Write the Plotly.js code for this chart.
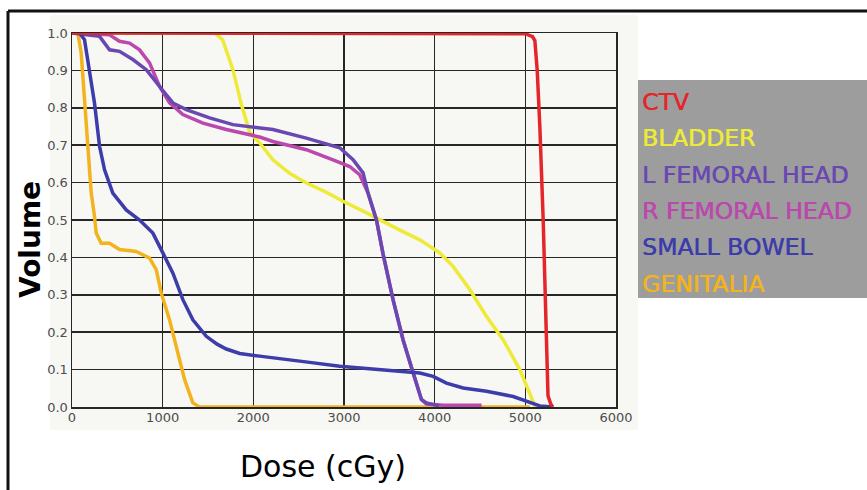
<!DOCTYPE html>
<html>
<head>
<meta charset="utf-8">
<script src="https://cdn.plot.ly/plotly-3.0.1.min.js"></script>
<style>html,body{margin:0;padding:0;background:#fff;}#chart{width:867px;height:490px;}</style>
</head>
<body>
<div id="chart"></div>
<script>
const seriesNames = ["CTV", "BLADDER", "L FEMORAL HEAD", "R FEMORAL HEAD", "SMALL BOWEL", "GENITALIA"];
const seriesColors = ["#e4262b", "#eeea38", "#6a48b2", "#bb48ac", "#3c3caa", "#f2b31f"];

const ctvDose = [0, 4880, 5000, 5080, 5105, 5131, 5160, 5197, 5234, 5250, 5280, 5303];
const ctvVol  = [1, 1, 0.998, 0.99, 0.98, 0.90, 0.75, 0.50, 0.145, 0.03, 0.008, 0];

const bladderDose = [0, 1573, 1661, 1775, 1867, 1959, 2069, 2216, 2400, 2585, 2800, 2989, 3200, 3394, 3600, 3836, 4056, 4203, 4387, 4572, 4755, 4939, 5013, 5086, 5110];
const bladderVol  = [1, 1, 0.982, 0.902, 0.810, 0.735, 0.706, 0.661, 0.625, 0.599, 0.575, 0.550, 0.525, 0.500, 0.475, 0.447, 0.412, 0.376, 0.314, 0.242, 0.180, 0.100, 0.055, 0.010, 0];

const lFemDose = [0, 304, 414, 524, 671, 819, 966, 1113, 1260, 1518, 1775, 2069, 2216, 2585, 2953, 3100, 3210, 3265, 3358, 3430, 3541, 3651, 3762, 3854, 3909, 4000, 4050];
const lFemVol  = [1, 0.991, 0.955, 0.951, 0.929, 0.902, 0.857, 0.813, 0.795, 0.773, 0.755, 0.746, 0.742, 0.719, 0.693, 0.661, 0.626, 0.572, 0.500, 0.410, 0.287, 0.180, 0.091, 0.020, 0.011, 0.005, 0.003];

const rFemDose = [0, 414, 524, 635, 745, 855, 966, 1076, 1223, 1444, 1702, 2069, 2216, 2585, 2879, 3063, 3173, 3265, 3358, 3430, 3541, 3651, 3762, 3854, 3909, 4100, 4517];
const rFemVol  = [1, 0.995, 0.978, 0.973, 0.955, 0.920, 0.857, 0.813, 0.782, 0.759, 0.742, 0.722, 0.710, 0.688, 0.661, 0.643, 0.621, 0.572, 0.500, 0.410, 0.287, 0.180, 0.091, 0.020, 0.008, 0.005, 0.005];

const bowelDose = [0, 83, 138, 193, 248, 304, 359, 450, 598, 745, 892, 1002, 1113, 1223, 1333, 1481, 1600, 1702, 1850, 2069, 2216, 2600, 2953, 3300, 3688, 3836, 3983, 4130, 4314, 4572, 4866, 5013, 5160, 5307];
const bowelVol  = [1, 1, 0.982, 0.902, 0.813, 0.697, 0.634, 0.572, 0.527, 0.500, 0.465, 0.412, 0.358, 0.287, 0.233, 0.189, 0.168, 0.155, 0.143, 0.136, 0.131, 0.120, 0.109, 0.102, 0.095, 0.091, 0.082, 0.064, 0.051, 0.042, 0.028, 0.015, 0.003, 0];

const genDose = [0, 64, 101, 138, 175, 212, 248, 267, 322, 414, 524, 708, 855, 929, 984, 1076, 1168, 1242, 1333, 1407, 5050];
const genVol  = [1, 1, 0.947, 0.813, 0.679, 0.572, 0.510, 0.465, 0.438, 0.438, 0.421, 0.416, 0.398, 0.367, 0.305, 0.233, 0.144, 0.073, 0.011, 0, 0];

const xTickVals = [0, 1000, 2000, 3000, 4000, 5000, 6000];
const yTickVals = [0, 0.1, 0.2, 0.3, 0.4, 0.5, 0.6, 0.7, 0.8, 0.9, 1.0];

// ---- Traces (drawing order: bottom to top) ----
const seriesData = {
  "CTV": [ctvDose, ctvVol],
  "BLADDER": [bladderDose, bladderVol],
  "L FEMORAL HEAD": [lFemDose, lFemVol],
  "R FEMORAL HEAD": [rFemDose, rFemVol],
  "SMALL BOWEL": [bowelDose, bowelVol],
  "GENITALIA": [genDose, genVol]
};
const drawOrder = ["GENITALIA", "BLADDER", "R FEMORAL HEAD", "L FEMORAL HEAD", "SMALL BOWEL", "CTV"];
const traces = drawOrder.map(name => {
  const i = seriesNames.indexOf(name);
  return {
    type: "scatter", mode: "lines", name: name,
    x: seriesData[name][0], y: seriesData[name][1],
    line: {color: seriesColors[i], width: 3.5},
    showlegend: false, hoverinfo: "skip"
  };
});

// ---- Layout helpers (pixel -> paper) ----
const L = 72, R = 616, T = 33, B = 407;
const px = v => (v - L) / (R - L);
const py = v => (B - v) / (B - T);

const bgColor = "#f7f7f3";
const shapes = [
  {type: "rect", xref: "paper", yref: "paper", layer: "below",
   x0: px(50), x1: px(638), y0: py(430), y1: py(15), fillcolor: bgColor, line: {width: 0}},
  {type: "rect", xref: "paper", yref: "paper", layer: "below",
   x0: px(638), x1: px(870), y0: py(298), y1: py(80), fillcolor: "#9d9d9d", line: {width: 0}},
  {type: "line", xref: "paper", yref: "paper", x0: px(8), x1: px(870), y0: py(11), y1: py(11), line: {color: "#111", width: 3}},
  {type: "line", xref: "paper", yref: "paper", x0: px(8), x1: px(8), y0: py(11), y1: py(495), line: {color: "#111", width: 3}}
];

const annotations = seriesNames.map((n, i) => ({
  xref: "paper", yref: "paper", x: px(640), y: py(102 + i * 36.3),
  xanchor: "left", yanchor: "middle", showarrow: false, text: n,
  font: {family: "DejaVu Sans", size: 23.5, color: seriesColors[i],
         shadow: "0.6px 0 0 " + seriesColors[i]}
}));
annotations.push({
  xref: "paper", yref: "paper", x: px(30), y: py(240), textangle: -90,
  xanchor: "center", yanchor: "middle", showarrow: false, text: "<b>Volume</b>",
  font: {family: "DejaVu Sans", size: 28, color: "#000"}
});
annotations.push({
  xref: "paper", yref: "paper", x: px(323), y: py(466),
  xanchor: "center", yanchor: "middle", showarrow: false, text: "Dose (cGy)",
  font: {family: "DejaVu Sans", size: 30, color: "#000"}
});

const axisCommon = {
  showgrid: true, gridcolor: "#262626", gridwidth: 1.5,
  zeroline: false, showline: true, linecolor: "#262626", linewidth: 1.5, mirror: true,
  ticks: "", tickfont: {family: "DejaVu Sans", size: 13, color: "#4d4d4d"}, fixedrange: true
};

const layout = {
  width: 867, height: 490,
  margin: {l: L, r: 867 - R, t: T, b: 490 - B, pad: 0},
  paper_bgcolor: "#ffffff", plot_bgcolor: bgColor,
  showlegend: false,
  xaxis: Object.assign({}, axisCommon, {range: [0, 6000], tickvals: xTickVals, ticktext: xTickVals.map(String), ticklabelstandoff: -2}),
  yaxis: Object.assign({}, axisCommon, {range: [0, 1], tickvals: yTickVals, ticktext: yTickVals.map(v => v.toFixed(1))}),
  shapes: shapes,
  annotations: annotations
};

Plotly.newPlot("chart", traces, layout, {staticPlot: true, displayModeBar: false});
</script>
</body>
</html>
